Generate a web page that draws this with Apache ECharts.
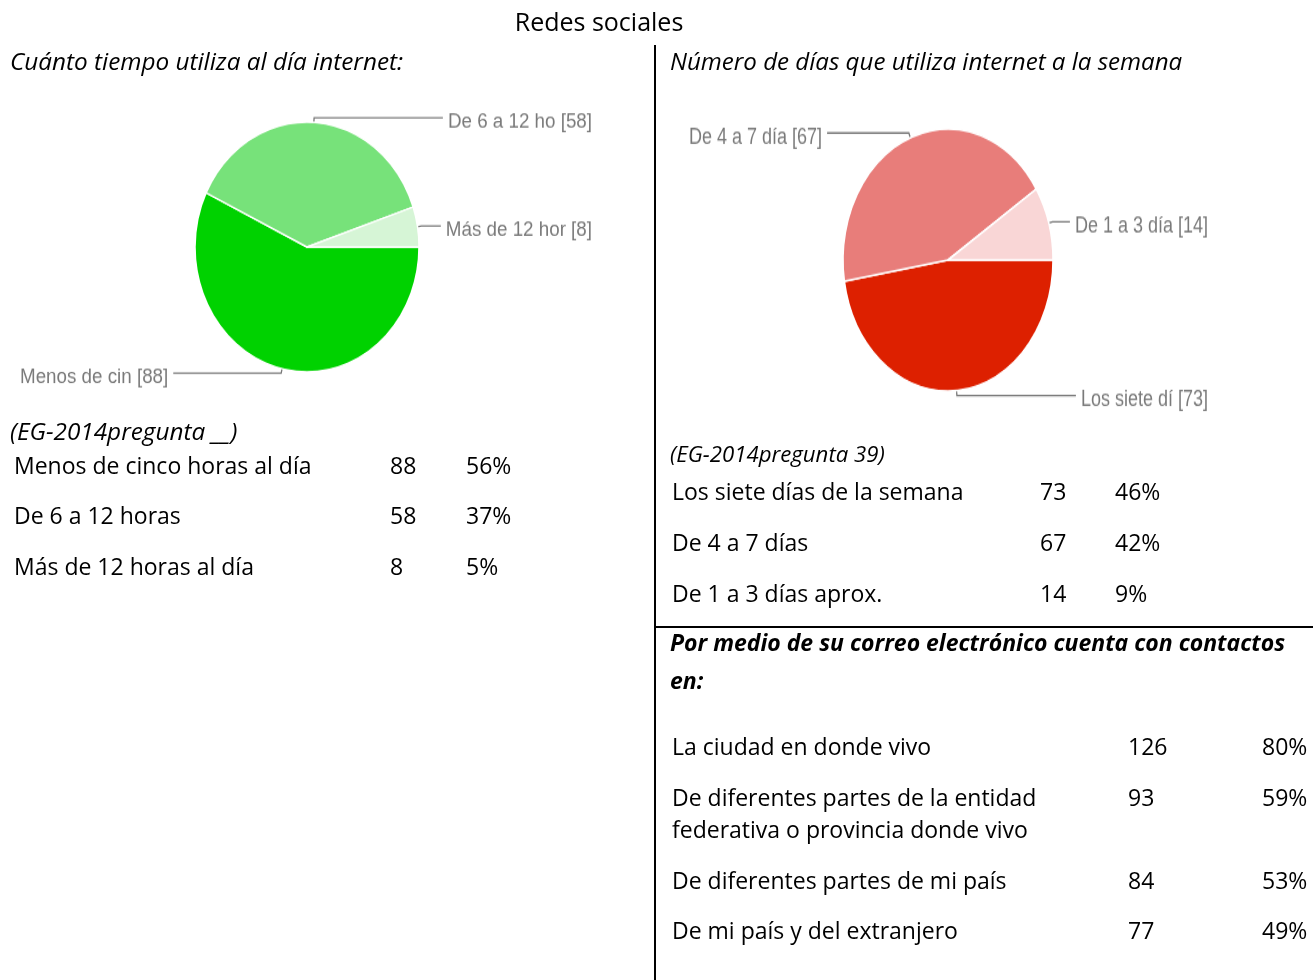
<!DOCTYPE html>
<html>
<head>
<meta charset="utf-8">
<script src="https://cdn.jsdelivr.net/npm/echarts/dist/echarts.min.js"></script>
<style>
  html, body { margin: 0; padding: 0; background: #fff; }
  #page { position: absolute; left: 0; top: 0; width: 1313px; height: 980px; }
  /* the pie pictures in the source document are stretched vertically */
  #pieHours { position: absolute; left: 0; top: 91px; width: 620px; height: 300px;
    transform: scaleY(1.115); transform-origin: 307px 156px; }
  #pieDays { position: absolute; left: 660px; top: 100px; width: 600px; height: 320px;
    transform: scaleY(1.248); transform-origin: 288px 160px; }
</style>
</head>
<body>
<div id="page"></div>
<div id="pieHours"></div>
<div id="pieDays"></div>
<script>
// Cuánto tiempo utiliza al día internet
const hourLabels = ['Menos de cinco horas al día', 'De 6 a 12 horas', 'Más de 12 horas al día']
const hourShort = ['Menos de cin', 'De 6 a 12 ho', 'Más de 12 hor']
const hourCounts = [88, 58, 8]
const hourPct = ['56%', '37%', '5%']
const hourColors = ['#00d200', '#77e27a', '#d6f5d6']

// Número de días que utiliza internet a la semana
const dayLabels = ['Los siete días de la semana', 'De 4 a 7 días', 'De 1 a 3 días aprox.']
const dayShort = ['Los siete dí', 'De 4 a 7 día', 'De 1 a 3 día']
const dayCounts = [73, 67, 14]
const dayPct = ['46%', '42%', '9%']
const dayColors = ['#dd2000', '#e87d7a', '#f9d6d6']

// Contactos por correo electrónico
const contactLabels = [
  ['La ciudad en donde vivo'],
  ['De diferentes partes de la entidad', 'federativa o provincia donde vivo'],
  ['De diferentes partes de mi país'],
  ['De mi país y del extranjero']
]
const contactCounts = [126, 93, 84, 77]
const contactPct = ['80%', '59%', '53%', '49%']

const FONT = '"Open Sans", "DejaVu Sans", sans-serif'

function txt(x, y, text, size, opts) {
  opts = opts || {}
  return {
    type: 'text',
    x: x,
    y: y,
    silent: true,
    style: {
      text: text,
      fill: '#000',
      align: opts.align || 'left',
      verticalAlign: 'middle',
      font: (opts.style || '') + ' ' + (opts.weight || 'normal') + ' ' + size + 'px ' + FONT
    }
  }
}

// texto y tablas del documento
const page = echarts.init(document.getElementById('page'))
const elements = []
elements.push(txt(599, 24, 'Redes sociales', 25, { align: 'center' }))
elements.push(txt(10, 63, 'Cuánto tiempo utiliza al día internet:', 24.3, { style: 'italic' }))
elements.push(txt(670, 63, 'Número de días que utiliza internet a la semana', 24.1, { style: 'italic' }))

elements.push(txt(10, 433, '(EG-2014pregunta __)', 24.3, { style: 'italic' }))
hourLabels.forEach((l, i) => {
  const y = 467 + i * 50.5
  elements.push(txt(14, y, l, 23))
  elements.push(txt(390, y, String(hourCounts[i]), 23))
  elements.push(txt(466, y, hourPct[i], 23))
})

elements.push(txt(670, 456, '(EG-2014pregunta 39)', 22.2, { style: 'italic' }))
dayLabels.forEach((l, i) => {
  const y = 493 + i * 51
  elements.push(txt(672, y, l, 23))
  elements.push(txt(1040, y, String(dayCounts[i]), 23))
  elements.push(txt(1115, y, dayPct[i], 23))
})

elements.push(txt(670, 644, 'Por medio de su correo electrónico cuenta con contactos', 23, { style: 'italic', weight: 'bold' }))
elements.push(txt(670, 682, 'en:', 23, { style: 'italic', weight: 'bold' }))
const contactRows = [748, 799, 882, 932]
contactLabels.forEach((lines, i) => {
  const y = contactRows[i]
  lines.forEach((l, j) => elements.push(txt(672, y + j * 32, l, 23)))
  elements.push(txt(1128, y, String(contactCounts[i]), 23))
  elements.push(txt(1262, y, contactPct[i], 23))
})

// separadores
elements.push({ type: 'line', silent: true, shape: { x1: 655, y1: 45, x2: 655, y2: 980 }, style: { stroke: '#000', lineWidth: 2 } })
elements.push({ type: 'line', silent: true, shape: { x1: 655, y1: 627, x2: 1313, y2: 627 }, style: { stroke: '#000', lineWidth: 2 } })

page.setOption({ animation: false, graphic: { elements: elements } })

// pastel con etiquetas al estilo de Google Forms
function pieOption(names, values, colors, box) {
  return {
    animation: false,
    series: [
      {
        type: 'pie',
        left: box.left,
        width: box.width,
        top: 0,
        bottom: 0,
        center: box.center,
        radius: box.radius,
        startAngle: 0,
        clockwise: true,
        itemStyle: { borderColor: '#fff', borderWidth: 1.5 },
        label: {
          // empty first line pushes the text a little below the leader line
          formatter: '{s|}\n{t|{b} [{c}]}',
          alignTo: 'edge',
          edgeDistance: 0,
          rich: {
            s: { fontSize: 1, lineHeight: 7 },
            t: {
              color: '#7a7a7a',
              fontFamily: 'Liberation Sans, Arial, sans-serif',
              fontSize: box.fontSize,
              lineHeight: 22
            }
          }
        },
        labelLine: {
          length: 4,
          length2: 10,
          lineStyle: { color: '#777', width: 1.3 }
        },
        emphasis: { disabled: true },
        data: names.map((n, i) => ({ name: n, value: values[i], itemStyle: { color: colors[i] } }))
      }
    ]
  }
}

const pieHours = echarts.init(document.getElementById('pieHours'))
pieHours.setOption(pieOption(hourShort, hourCounts, hourColors, { left: 20, width: 572, center: [287, 156], radius: 112, fontSize: 18.8 }))

const pieDays = echarts.init(document.getElementById('pieDays'))
pieDays.setOption(pieOption(dayShort, dayCounts, dayColors, { left: 29, width: 519, center: [259, 160], radius: 105, fontSize: 18 }))
</script>
</body>
</html>
